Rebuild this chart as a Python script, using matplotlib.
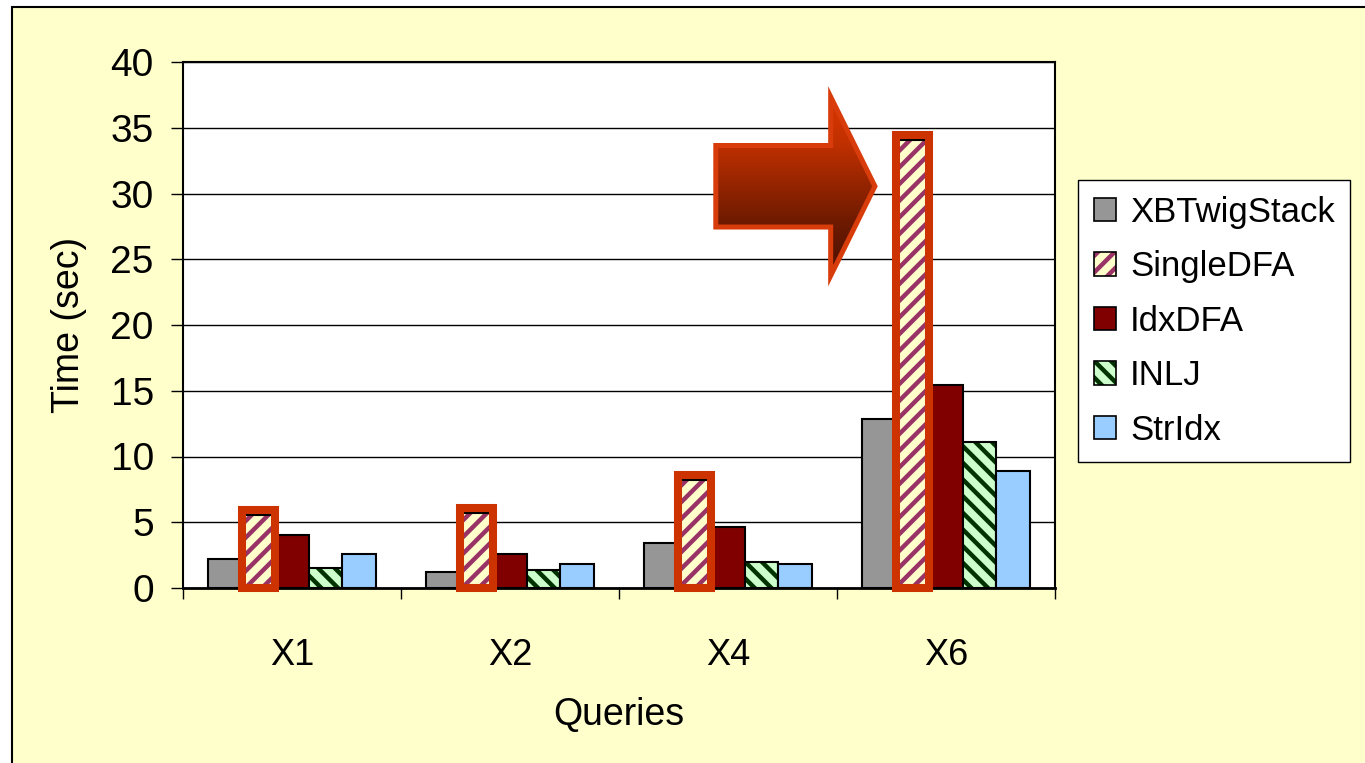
import numpy as np
import matplotlib.pyplot as plt
from matplotlib.patches import Rectangle, Polygon, Patch
from matplotlib.legend_handler import HandlerTuple
from matplotlib.colors import LinearSegmentedColormap

plt.rcParams['font.family'] = ['Liberation Sans', 'DejaVu Sans']

queries = ['X1', 'X2', 'X4', 'X6']
series = ['XBTwigStack', 'SingleDFA', 'IdxDFA', 'INLJ', 'StrIdx']

xbtwigstack = [2.2, 1.2, 3.4, 12.85]
singledfa = [5.55, 5.7, 8.25, 34.1]
idxdfa = [4.0, 2.6, 4.65, 15.4]
inlj = [1.5, 1.4, 1.95, 11.1]
stridx = [2.6, 1.85, 1.8, 8.9]

values = [xbtwigstack, singledfa, idxdfa, inlj, stridx]
faces = ['#969696', '#FFFFCC', '#800000', '#CCFFCC', '#99CCFF']
hatches = [None, '//', None, '\\\\', None]
hatch_cols = [None, '#993366', None, '#003300', None]

fig = plt.figure(figsize=(13.65, 7.63), dpi=100)
fig.patch.set_facecolor('white')
# pale yellow chart area with a black frame on the left/top
fig.patches.append(Rectangle((12 / 1365, -0.05), 1.1, 1.05 - 7 / 763,
                             transform=fig.transFigure, facecolor='#FFFFCC',
                             edgecolor='black', linewidth=1.5, zorder=-10))

ax = fig.add_axes([183 / 1365, 1 - 588 / 763, 872 / 1365, 526 / 763])
ax.set_facecolor('white')

x = np.arange(len(queries))
w = 0.154
plt.rcParams['hatch.linewidth'] = 3.2

handles = []
for j, (vals, fc, h, hc) in enumerate(zip(values, faces, hatches, hatch_cols)):
    pos = x + (j - 2) * w
    if h is None:
        ax.bar(pos, vals, w, color=fc, edgecolor='black', linewidth=1.5, zorder=3)
        handles.append(Patch(facecolor=fc, edgecolor='black', linewidth=1.2))
    else:
        ax.bar(pos, vals, w, color=fc, hatch=h, edgecolor=hc, linewidth=0, zorder=3)
        ax.bar(pos, vals, w, fill=False, edgecolor='black', linewidth=1.5, zorder=3)
        handles.append((Patch(facecolor=fc, hatch=h, edgecolor=hc, linewidth=0),
                        Patch(fill=False, edgecolor='black', linewidth=1.2)))

# red frames around the SingleDFA bars
for i, v in enumerate(singledfa):
    left = x[i] - 1.5 * w
    ax.add_patch(Rectangle((left, 0), w, v + 0.35, fill=False,
                           edgecolor='#CC3300', linewidth=5.8, zorder=5,
                           clip_on=False))

# block arrow pointing at the X6 SingleDFA bar
x0, xb, xt = 1.944, 2.471, 2.674
ym = 30.55
bh, hh = 3.1, 6.8
arrow_pts = [(x0, ym + bh), (xb, ym + bh), (xb, ym + hh), (xt, ym),
             (xb, ym - hh), (xb, ym - bh), (x0, ym - bh)]
arrow = Polygon(arrow_pts, closed=True, facecolor='none', edgecolor='#D83C0A',
                linewidth=3.6, joinstyle='miter', zorder=7)
grad = np.linspace(0, 1, 256).reshape(-1, 1)
cmap = LinearSegmentedColormap.from_list(
    'arrow', [(0, '#4A1000'), (0.3, '#6E1A00'), (0.75, '#C23000'), (1, '#D83800')])
img = ax.imshow(grad, cmap=cmap, aspect='auto', zorder=6, origin='lower',
                extent=[x0, xt, ym - hh, ym + hh])
fill = Polygon(arrow_pts, closed=True, facecolor='none', edgecolor='none',
               transform=ax.transData)
ax.add_patch(fill)
img.set_clip_path(fill)
ax.add_patch(arrow)

ax.set_xlim(-0.5, 3.5)
ax.set_ylim(0, 40)
ax.set_yticks(np.arange(0, 41, 5))
ax.yaxis.grid(True, color='black', linewidth=1.0, zorder=0)
ax.set_axisbelow(True)

ax.set_xticks(x)
ax.set_xticklabels(queries, fontsize=26)
ax.tick_params(axis='x', which='major', length=0, pad=36)
ax.set_xticks(np.arange(-0.5, 4, 1), minor=True)
ax.tick_params(axis='x', which='minor', length=8, width=1, direction='out')
ax.tick_params(axis='y', labelsize=28, length=9, width=1, direction='out', pad=12)

for s in ax.spines.values():
    s.set_color('black')
    s.set_linewidth(1.5)
ax.spines['bottom'].set_linewidth(2)

ax.set_xlabel('Queries', fontsize=27)
ax.set_ylabel('Time (sec)', fontsize=27)
ax.xaxis.set_label_coords(0.5, -0.208)
ax.yaxis.set_label_coords(-0.11, 0.5)

leg = fig.legend(handles, series, loc='upper left',
                 bbox_to_anchor=(1078 / 1365, 1 - 180 / 763), borderaxespad=0,
                 fontsize=25, frameon=True, fancybox=False, framealpha=1,
                 edgecolor='black', handlelength=0.65, handleheight=0.65,
                 handletextpad=0.4, labelspacing=0.62, borderpad=0.45,
                 handler_map={tuple: HandlerTuple(ndivide=1)})
leg.get_frame().set_linewidth(1.0)

fig.savefig('out.png', dpi=100, facecolor=fig.get_facecolor())
